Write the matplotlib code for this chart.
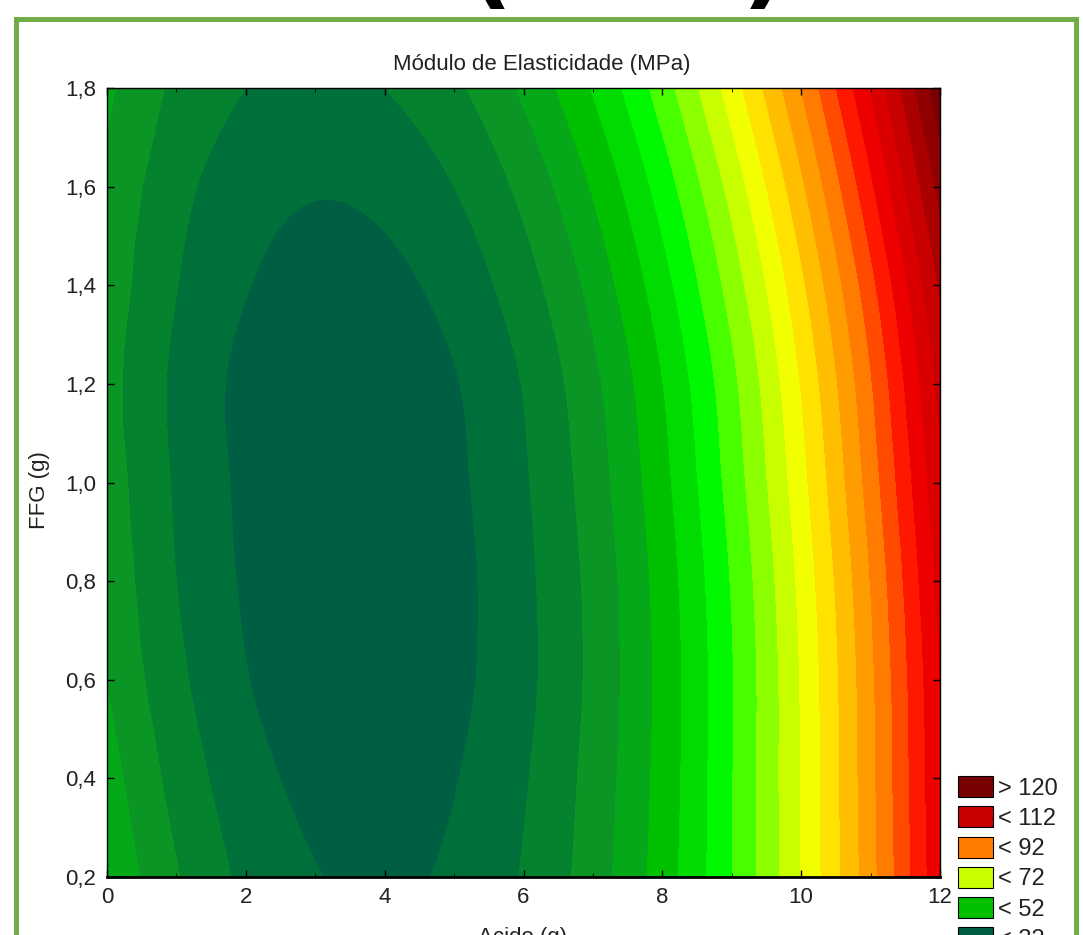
import numpy as np
import matplotlib
matplotlib.use("Agg")
import matplotlib.pyplot as plt
import matplotlib.tri as mtri
from matplotlib.patches import Patch, Rectangle

plt.rcParams['font.family'] = ['Liberation Sans', 'DejaVu Sans']

# ---- data (Módulo de Elasticidade, MPa) ----
acido = [0, 1, 2, 3, 4, 5, 6, 7, 8, 9, 10, 11, 12]
ffg = [0.2, 0.4, 0.6, 0.8, 1.0, 1.2, 1.4, 1.6, 1.8]
z_y02 = [47.6, 40.3, 35.1, 32.2, 31.4, 32.7, 36.3, 42.0, 49.9, 59.9, 72.1, 86.5, 103.1]
z_y04 = [45.7, 38.6, 33.6, 30.9, 30.3, 31.8, 35.6, 41.5, 49.5, 59.8, 72.2, 86.8, 103.5]
z_y06 = [43.9, 37.0, 32.2, 29.6, 29.2, 31.0, 34.9, 41.0, 49.3, 59.7, 72.3, 87.1, 104.0]
z_y08 = [42.8, 36.0, 31.5, 29.1, 28.9, 30.8, 35.0, 41.2, 49.7, 60.3, 73.1, 88.1, 105.3]
z_y10 = [42.0, 35.5, 31.2, 29.0, 29.0, 31.2, 35.5, 42.0, 50.7, 61.6, 74.6, 89.8, 107.1]
z_y12 = [41.4, 35.2, 31.0, 29.1, 29.3, 31.7, 36.2, 43.0, 51.9, 62.9, 76.2, 91.6, 109.2]
z_y14 = [42.2, 36.1, 32.2, 30.5, 30.9, 33.5, 38.3, 45.3, 54.4, 65.7, 79.1, 94.7, 112.5]
z_y16 = [43.1, 37.3, 33.7, 32.3, 33.1, 36.0, 41.1, 48.4, 57.8, 69.4, 83.2, 99.2, 117.3]
z_y18 = [44.7, 39.2, 36.0, 34.9, 36.0, 39.2, 44.7, 52.3, 62.0, 74.0, 88.1, 104.3, 122.8]

levels_inner = [32, 36, 40, 44, 48, 52, 56, 60, 64, 68, 72, 76, 80, 84, 88,
                92, 96, 100, 104, 108, 112, 116, 120]
band_colors = ['#005e42', '#00703a', '#04822e', '#0a9524', '#04a818', '#00c000',
               '#00dc00', '#00f800', '#48ff00', '#8cff00', '#c8ff00', '#f2ff00',
               '#ffe200', '#ffbe00', '#ff9c00', '#ff7c00', '#ff4a00', '#ff1800',
               '#ee0000', '#da0000', '#c80000', '#aa0000', '#900000', '#780000']
legend_labels = ['> 120', '< 112', '< 92', '< 72', '< 52', '< 32']
legend_band_idx = [23, 20, 15, 10, 5, 0]

xticks = [0, 2, 4, 6, 8, 10, 12]
xticklabels = ['0', '2', '4', '6', '8', '10', '12']
yticks = [0.2, 0.4, 0.6, 0.8, 1.0, 1.2, 1.4, 1.6, 1.8]
yticklabels = ['0,2', '0,4', '0,6', '0,8', '1,0', '1,2', '1,4', '1,6', '1,8']

# ---- figure ----
W, H = 1083, 935
fig = plt.figure(figsize=(W / 100, H / 100), dpi=100)
fig.patch.set_facecolor('white')

def fx(px):
    return px / W

def fy(py):
    return 1 - py / H

ax = fig.add_axes([fx(107), fy(877), fx(940) - fx(107), fy(88) - fy(877)])
Z = np.array([z_y02, z_y04, z_y06, z_y08, z_y10, z_y12, z_y14, z_y16, z_y18])
X, Y = np.meshgrid(acido, ffg)

# smooth rendering of the read grid via matplotlib's triangulation refiner
yscale = 7.5
tri_s = mtri.Triangulation(X.ravel(), Y.ravel() * yscale)
interp = mtri.CubicTriInterpolator(tri_s, Z.ravel(), kind='geom')
refiner = mtri.UniformTriRefiner(tri_s)
tri_r, z_r = refiner.refine_field(Z.ravel(), triinterpolator=interp, subdiv=3)
tri_plot = mtri.Triangulation(tri_r.x, tri_r.y / yscale, tri_r.triangles)

levels = [0] + levels_inner + [500]
ax.tricontourf(tri_plot, z_r, levels=levels, colors=band_colors, antialiased=False)
ax.set_xlim(0, 12)
ax.set_ylim(0.2, 1.8)
ax.set_xticks(xticks)
ax.set_xticklabels(xticklabels)
ax.set_yticks(yticks)
ax.set_yticklabels(yticklabels)
ax.set_xticks([1, 3, 5, 7, 9, 11], minor=True)
ax.tick_params(axis='both', which='major', direction='in', length=5, width=1,
               top=True, right=True, labelsize=16, colors='black',
               labelcolor='#222222')
ax.tick_params(axis='x', which='major', pad=7)
ax.tick_params(axis='y', which='major', pad=8)
ax.tick_params(axis='x', which='minor', direction='in', length=3, top=True)
for s in ['left', 'right', 'top']:
    ax.spines[s].set_linewidth(1.0)
ax.spines['bottom'].set_linewidth(2.0)

# titles / labels
fig.text(fx(542), fy(70), 'Módulo de Elasticidade (MPa)', ha='center',
         va='baseline', fontsize=16, color='#222222')
fig.text(fx(40), fy(490), 'FFG (g)', ha='center', va='center', rotation=90,
         fontsize=16, color='#222222')
fig.text(fx(523), fy(927), 'Acido (g)', ha='center', va='top',
         fontsize=16, color='#222222')

# cropped big heading at the very top
fig.text(fx(628), fy(-4), '(MPa)', ha='center', va='baseline', fontsize=70,
         fontweight='bold', color='black', family='DejaVu Sans')

# legend
handles = [Patch(facecolor=band_colors[i], edgecolor='black', linewidth=0.8)
           for i in legend_band_idx]
fig.legend(handles, legend_labels, loc='upper left',
           bbox_to_anchor=(fx(958), fy(776)), bbox_transform=fig.transFigure,
           frameon=False, fontsize=17, handlelength=1.5, handleheight=1.0,
           handletextpad=0.2, labelspacing=0.28, borderpad=0, borderaxespad=0,
           labelcolor='#222222')

# green frame
frame = Rectangle((fx(16), -0.05), fx(1076) - fx(16), fy(19) + 0.05,
                  transform=fig.transFigure, fill=False, edgecolor='#70ad47',
                  linewidth=3.6, zorder=10)
fig.add_artist(frame)

fig.savefig('out.png', dpi=100, facecolor='white')
